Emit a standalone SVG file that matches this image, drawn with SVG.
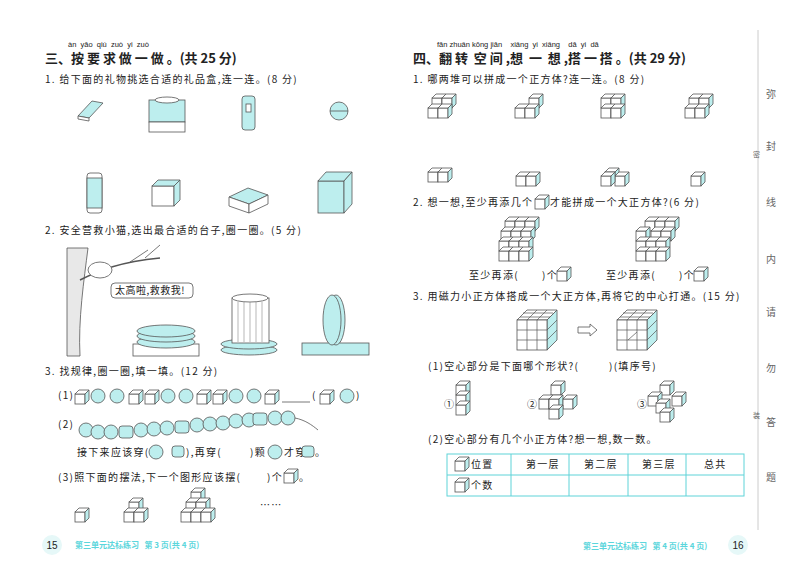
<svg xmlns="http://www.w3.org/2000/svg" xmlns:xlink="http://www.w3.org/1999/xlink" width="800" height="575" viewBox="0 0 800 575">
<style>
text{font-family:"Noto Sans CJK SC","Liberation Serif",serif;fill:#222;white-space:pre}
.t{font-size:13px;font-weight:bold}
.q{font-size:10px;letter-spacing:1.3px}
.py{font-size:7.5px;font-family:"Liberation Sans",sans-serif}
.s{stroke:#555;stroke-width:0.8;fill:#fff}
.c{stroke:#555;stroke-width:0.8;fill:#bdeeee}
.side{font-size:10px;fill:#666}
.ft{font-size:8px;fill:#5cd6dc;font-weight:bold}
</style>
<defs>
<g id="k"><rect class="s" x="0" y="4" width="10" height="10"/><polygon class="s" points="0,4 4,0 14,0 10,4"/><polygon class="c" points="10,4 14,0 14,10 10,14"/></g>
<g id="b"><circle class="c" cx="0" cy="0" r="7"/></g>
</defs>
<rect width="800" height="575" fill="#fff"/>
<g id="left">
<text class="py" x="68" y="47">àn  yāo  qiú  zuò  yi  zuò</text>
<text class="t" x="45" y="63">三、按 要 求 做 一 做 。(共 25 分)</text>
<text class="q" x="45" y="83">1. 给下面的礼物挑选合适的礼品盒,连一连。(8 分)</text>
<g id="gifts1">
<polygon class="c" points="78,116 92,101 103,103 89,118"/><polygon class="s" points="78,116 89,118 89,121 78,119"/>
<rect class="c" x="149" y="100" width="36" height="22"/><rect class="s" x="149" y="122" width="36" height="10"/><ellipse class="s" cx="167" cy="100" rx="12" ry="3"/>
<rect class="c" x="242" y="96" width="13" height="34" rx="3"/><rect class="s" x="246" y="104" width="5" height="8"/>
<circle class="c" cx="339" cy="111" r="9"/><line x1="330" y1="111" x2="348" y2="111" stroke="#555" stroke-width="0.8"/>
</g>
<g id="gifts2">
<rect class="s" x="87" y="173" width="15" height="40" rx="3"/><rect class="c" x="87" y="178" width="15" height="30"/>
<rect class="s" x="152" y="186" width="22" height="20"/><polygon class="c" points="152,186 158,180 180,180 174,186"/><polygon class="c" points="174,186 180,180 180,200 174,206"/>
<polygon class="c" points="229,197 248,188 268,195 249,204"/><polygon class="s" points="229,197 249,204 249,213 229,206"/><polygon class="s" points="249,204 268,195 268,204 249,213"/>
<rect class="c" x="318" y="181" width="26" height="32"/><polygon class="c" points="318,181 326,172 352,172 344,181"/><polygon class="c" points="344,181 352,172 352,204 344,213"/>
</g>
<text class="q" x="45" y="234">2. 安全营救小猫,选出最合适的台子,圈一圈。(5 分)</text>
<g id="scene">
<path d="M67,248 L88,248 C84,280 78,320 80,356 L67,356 Z" fill="#e8e8e8" stroke="#555" stroke-width="0.8"/>
<path d="M80,280 C100,270 120,262 160,258" fill="none" stroke="#555" stroke-width="1.5"/>
<path d="M130,262 L148,250 M145,258 L160,245" fill="none" stroke="#555" stroke-width="0.8"/>
<ellipse cx="100" cy="270" rx="12" ry="8" fill="#fff" stroke="#555" stroke-width="0.8"/>
<rect x="111" y="283" width="82" height="15" rx="4" fill="#fff" stroke="#555" stroke-width="0.8"/>
<text class="q" x="115" y="294" style="letter-spacing:0.5px">太高啦,救救我!</text>
<rect class="s" x="133" y="344" width="66" height="12"/>
<ellipse class="c" cx="166" cy="342" rx="29" ry="6"/><ellipse class="c" cx="166" cy="336" rx="29" ry="6"/><ellipse class="c" cx="166" cy="331" rx="29" ry="6"/>
<ellipse class="c" cx="249" cy="350" rx="28" ry="5"/><ellipse class="c" cx="249" cy="344" rx="28" ry="5"/>
<rect class="s" x="232" y="298" width="37" height="45"/><ellipse class="s" cx="250" cy="298" rx="18" ry="4"/>
<path d="M238,302 V342 M244,302 V342 M250,302 V342 M256,302 V342 M262,302 V342" stroke="#888" stroke-width="0.6"/>
<rect class="c" x="302" y="343" width="67" height="12"/>
<ellipse class="c" cx="336" cy="320" rx="9" ry="25"/><ellipse class="c" cx="332" cy="320" rx="9" ry="25"/>
</g>
<text class="q" x="45" y="375">3. 找规律,圈一圈,填一填。(12 分)</text>
<text class="q" x="58" y="399">(1)</text>
<g id="row1">
<use href="#k" x="75" y="390"/><use href="#b" x="98" y="396"/><use href="#b" x="117" y="396"/><use href="#k" x="129" y="390"/><use href="#k" x="145" y="390"/><use href="#b" x="168" y="396"/><use href="#b" x="186" y="396"/><use href="#k" x="197" y="390"/><use href="#k" x="213" y="390"/><use href="#b" x="236" y="396"/><use href="#b" x="254" y="396"/><use href="#k" x="265" y="390"/>
<line x1="282" y1="402" x2="310" y2="402" stroke="#555" stroke-width="0.8"/>
<text class="q" x="312" y="399">(</text><use href="#k" x="320" y="390"/><use href="#b" x="347" y="396"/><text class="q" x="356" y="399">)</text>
</g>
<text class="q" x="58" y="428">(2)</text>
<g id="beads">
<use href="#b" x="86" y="430"/><use href="#b" x="98" y="432"/><use href="#b" x="111" y="432"/><rect class="c" x="119" y="426" width="14" height="12" rx="3"/><use href="#b" x="141" y="430"/><use href="#b" x="154" y="429"/><use href="#b" x="167" y="428"/><rect class="c" x="175" y="421" width="14" height="12" rx="3"/><use href="#b" x="197" y="425"/><use href="#b" x="210" y="424"/><use href="#b" x="223" y="423"/><use href="#b" x="236" y="421"/><use href="#b" x="249" y="420"/><rect class="c" x="253" y="413" width="14" height="12" rx="3"/><use href="#b" x="275" y="418"/><use href="#b" x="288" y="418"/>
<path d="M295,418 C305,420 312,425 318,430" fill="none" stroke="#555" stroke-width="0.8"/>
</g>
<text class="q" x="77" y="456">接下来应该穿(</text>
<use href="#b" x="156" y="452"/><rect class="c" x="172" y="446" width="12" height="11" rx="3"/>
<text class="q" x="186" y="456">),再穿(</text>
<text class="q" x="250" y="456">)颗</text>
<use href="#b" x="275" y="452"/>
<text class="q" x="284" y="456">才穿</text>
<rect class="c" x="302" y="446" width="12" height="11" rx="3"/>
<text class="q" x="315" y="456">。</text>
<text class="q" x="58" y="481">(3)照下面的摆法,下一个图形应该摆(</text>
<text class="q" x="267" y="481">)个</text>
<use href="#k" x="284" y="469"/>
<text class="q" x="299" y="481">。</text>
<g id="piles">
<use href="#k" x="75" y="508"/>
<use href="#k" x="129" y="498"/><use href="#k" x="124" y="508"/><use href="#k" x="134" y="508"/>
<use href="#k" x="191" y="488"/><use href="#k" x="186" y="498"/><use href="#k" x="196" y="498"/><use href="#k" x="181" y="508"/><use href="#k" x="191" y="508"/><use href="#k" x="201" y="508"/>
</g>
<text class="q" x="260" y="509">……</text>
<circle cx="52" cy="545" r="10" fill="#e6f8f8"/>
<text x="52" y="549" text-anchor="middle" style="font-size:10px;font-family:'Liberation Sans',sans-serif">15</text>
<text class="ft" x="75" y="548">第三单元达标练习   第 3 页(共 4 页)</text>
</g>
<g id="right">
<text class="py" x="437" y="47">fān zhuǎn kōng jiān    xiǎng  yi  xiǎng    dā  yi  dā</text>
<text class="t" x="413" y="63">四、翻 转  空 间 ,想  一  想 ,搭 一 搭 。(共 29 分)</text>
<text class="q" x="413" y="83">1. 哪两堆可以拼成一个正方体?连一连。(8 分)</text>
<g id="r1">
<use href="#k" x="432" y="94"/><use href="#k" x="442" y="94"/><use href="#k" x="428" y="104"/><use href="#k" x="438" y="104"/>
<use href="#k" x="529" y="94"/><use href="#k" x="515" y="104"/><use href="#k" x="525" y="104"/>
<use href="#k" x="601" y="94"/><use href="#k" x="611" y="94"/><use href="#k" x="601" y="104"/><use href="#k" x="611" y="104"/>
<use href="#k" x="689" y="94"/><use href="#k" x="699" y="94"/><use href="#k" x="685" y="104"/><use href="#k" x="695" y="104"/>
</g>
<g id="r2">
<use href="#k" x="428" y="168"/><use href="#k" x="438" y="168"/>
<use href="#k" x="516" y="172"/><use href="#k" x="526" y="172"/>
<use href="#k" x="605" y="168"/><use href="#k" x="615" y="172"/><use href="#k" x="601" y="172"/>
<use href="#k" x="691" y="172"/>
</g>
<text class="q" x="413" y="206">2. 想一想,至少再添几个</text>
<use href="#k" x="535" y="195"/>
<text class="q" x="550" y="206">才能拼成一个大正方体?(6 分)</text>
<g id="s1">
<use href="#k" x="505" y="217"/><use href="#k" x="515" y="217"/><use href="#k" x="525" y="217"/>
<use href="#k" x="501" y="227"/><use href="#k" x="511" y="227"/><use href="#k" x="521" y="227"/>
<use href="#k" x="499" y="237"/><use href="#k" x="509" y="237"/><use href="#k" x="519" y="237"/>
<use href="#k" x="499" y="247"/><use href="#k" x="509" y="247"/><use href="#k" x="519" y="247"/>
</g>
<g id="s2">
<use href="#k" x="645" y="217"/><use href="#k" x="655" y="217"/><use href="#k" x="665" y="217"/>
<use href="#k" x="636" y="227"/><use href="#k" x="651" y="227"/><use href="#k" x="661" y="227"/>
<use href="#k" x="636" y="237"/><use href="#k" x="646" y="237"/><use href="#k" x="656" y="237"/>
<use href="#k" x="636" y="247"/><use href="#k" x="646" y="247"/><use href="#k" x="656" y="247"/>
</g>
<text class="q" x="469" y="279">至少再添(</text><text class="q" x="542" y="279">)个</text><use href="#k" x="557" y="267"/>
<text class="q" x="606" y="279">至少再添(</text><text class="q" x="679" y="279">)个</text><use href="#k" x="694" y="267"/>
<text class="q" x="413" y="300">3. 用磁力小正方体搭成一个大正方体,再将它的中心打通。(15 分)</text>
<g id="big">
<polygon class="s" points="517,320 527,310 557,310 547,320"/><polygon class="c" points="547,320 557,310 557,340 547,350"/><rect class="s" x="517" y="320" width="30" height="30"/>
<path d="M527,320 V350 M537,320 V350 M517,330 H547 M517,340 H547 M527,320 L537,310 M537,320 L547,310 M520,317 H550 M523,313 H553 M547,330 L557,320 M547,340 L557,330" stroke="#555" stroke-width="0.7" fill="none"/>
<path d="M578,327 H590 V324 L597,330 L590,336 V333 H578 Z" fill="#fff" stroke="#555" stroke-width="0.8"/>
<polygon class="s" points="617,320 627,310 657,310 647,320"/><polygon class="c" points="647,320 657,310 657,340 647,350"/><rect class="s" x="617" y="320" width="30" height="30"/>
<path d="M627,320 V350 M637,320 V350 M617,330 H647 M617,340 H647 M627,320 L637,310 M637,320 L647,310 M620,317 H650 M623,313 H653 M647,330 L657,320 M647,340 L657,330 M628,340 L637,332" stroke="#555" stroke-width="0.7" fill="none"/>
</g>
<text class="q" x="428" y="370">(1)空心部分是下面哪个形状?(</text>
<text class="q" x="609" y="370">)(填序号)</text>
<g id="opts">
<text class="q" x="444" y="408">①</text>
<use href="#k" x="456" y="381"/><use href="#k" x="456" y="391"/><use href="#k" x="456" y="401"/>
<text class="q" x="527" y="408">②</text>
<use href="#k" x="551" y="381"/><use href="#k" x="539" y="395"/><use href="#k" x="549" y="395"/><use href="#k" x="563" y="395"/><use href="#k" x="549" y="405"/>
<text class="q" x="637" y="408">③</text>
<use href="#k" x="660" y="381"/><use href="#k" x="648" y="392"/><use href="#k" x="672" y="392"/><use href="#k" x="656" y="399"/><use href="#k" x="660" y="408"/>
</g>
<text class="q" x="428" y="443">(2)空心部分有几个小正方体?想一想,数一数。</text>
<g id="table" fill="none" stroke="#5fd3d8" stroke-width="1">
<rect x="447" y="454" width="297" height="42"/>
<path d="M447,475 H744 M511,454 V496 M569,454 V496 M628,454 V496 M686,454 V496"/>
</g>
<use href="#k" x="455" y="457"/>
<text class="q" x="471" y="468">位置</text>
<text class="q" x="526" y="468">第一层</text><text class="q" x="584" y="468">第二层</text><text class="q" x="642" y="468">第三层</text><text class="q" x="704" y="468">总共</text>
<use href="#k" x="455" y="478"/>
<text class="q" x="471" y="489">个数</text>
<text class="ft" x="583" y="549">第三单元达标练习   第 4 页(共 4 页)</text>
<circle cx="738" cy="545" r="10" fill="#e6f8f8"/>
<text x="738" y="549" text-anchor="middle" style="font-size:10px;font-family:'Liberation Sans',sans-serif">16</text>
</g>
<g id="margin">
<line x1="758" y1="30" x2="758" y2="530" stroke="#ccc" stroke-width="1"/>
<text class="side" x="766" y="98">弥</text><text class="side" x="766" y="150">封</text><text class="side" x="766" y="206">线</text><text class="side" x="766" y="263">内</text><text class="side" x="766" y="316">请</text><text class="side" x="766" y="372">勿</text><text class="side" x="766" y="426">答</text><text class="side" x="766" y="481">题</text>
<text class="side" x="753" y="157" style="font-size:7px">密</text><text class="side" x="753" y="418" style="font-size:7px">装</text>
</g>
</svg>
